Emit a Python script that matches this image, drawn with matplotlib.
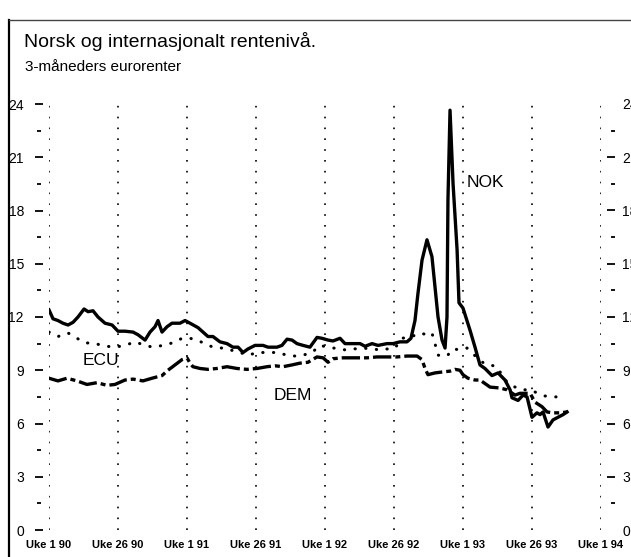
import numpy as np
import matplotlib
matplotlib.use("Agg")
import matplotlib.pyplot as plt
from matplotlib.lines import Line2D
from matplotlib.ticker import FixedLocator, NullLocator

plt.rcParams['font.family'] = ['Liberation Sans', 'DejaVu Sans']

# time in years after uke 1 1990
nok_t = [0.000, 0.029, 0.065, 0.101, 0.138, 0.174, 0.210, 0.254, 0.283, 0.319,
         0.355, 0.406, 0.457, 0.500, 0.551, 0.609, 0.645, 0.696, 0.732, 0.768,
         0.790, 0.819, 0.855, 0.891, 0.949, 0.986, 1.022, 1.080, 1.116, 1.152,
         1.188, 1.239, 1.290, 1.333, 1.370, 1.406, 1.442, 1.493, 1.551, 1.587,
         1.652, 1.688, 1.725, 1.761, 1.797, 1.841, 1.891, 1.942, 1.978, 2.022,
         2.058, 2.109, 2.145, 2.203, 2.254, 2.290, 2.341, 2.384, 2.449, 2.493,
         2.543, 2.594, 2.623, 2.652, 2.674, 2.703, 2.739, 2.775, 2.797, 2.819,
         2.848, 2.870, 2.884, 2.891, 2.906, 2.928, 2.957, 2.971, 3.000, 3.051,
         3.087, 3.123, 3.159, 3.210, 3.254, 3.304, 3.341, 3.355, 3.399, 3.435,
         3.464, 3.500, 3.536, 3.558, 3.580, 3.616, 3.652, 3.688, 3.725, 3.754]
nok = [12.4, 11.9, 11.8, 11.65, 11.55, 11.7, 12.0, 12.45, 12.3, 12.35,
       12.0, 11.65, 11.55, 11.2, 11.2, 11.15, 11.0, 10.7, 11.15, 11.45,
       11.8, 11.15, 11.45, 11.65, 11.65, 11.8, 11.65, 11.4, 11.15, 10.9,
       10.9, 10.6, 10.5, 10.3, 10.3, 10.0, 10.2, 10.4, 10.4, 10.3,
       10.3, 10.4, 10.75, 10.7, 10.5, 10.4, 10.3, 10.85, 10.8, 10.7,
       10.65, 10.8, 10.5, 10.5, 10.5, 10.35, 10.5, 10.4, 10.5, 10.5,
       10.6, 10.6, 10.8, 11.8, 13.35, 15.2, 16.35, 15.4, 13.7, 12.0,
       10.7, 10.25, 12.0, 18.6, 23.65, 19.5, 15.8, 12.8, 12.5, 11.25,
       10.3, 9.3, 9.1, 8.7, 8.85, 8.45, 7.9, 7.45, 7.3, 7.6,
       7.5, 6.35, 6.6, 6.5, 6.65, 5.8, 6.2, 6.35, 6.5, 6.65]

ecu_t = [0.000, 0.065, 0.138, 0.203, 0.261, 0.333, 0.420, 0.478, 0.551, 0.623,
         0.696, 0.754, 0.826, 0.899, 0.964, 1.022, 1.072, 1.130, 1.188, 1.254,
         1.312, 1.384, 1.442, 1.514, 1.587, 1.652, 1.725, 1.783, 1.841, 1.906,
         1.964, 2.022, 2.145, 2.275, 2.399, 2.507, 2.558, 2.630, 2.688, 2.739,
         2.775, 2.797, 2.819, 2.884, 2.928, 2.978, 3.029, 3.065, 3.101, 3.159,
         3.196, 3.246, 3.304, 3.362, 3.428, 3.486, 3.543, 3.594, 3.652, 3.717]
ecu = [11.15, 10.9, 11.1, 10.8, 10.55, 10.5, 10.35, 10.3, 10.4, 10.6,
       10.4, 10.3, 10.4, 10.55, 10.8, 10.8, 10.7, 10.5, 10.3, 10.25,
       10.15, 10.0, 9.85, 10.0, 10.0, 10.0, 9.85, 9.8, 9.85, 10.0,
       10.4, 10.3, 10.15, 10.25, 10.15, 10.25, 10.8, 10.9, 11.1, 11.0,
       11.1, 10.5, 9.85, 9.8, 10.2, 10.15, 10.25, 10.0, 9.7, 9.35,
       9.3, 9.2, 8.45, 8.1, 7.9, 7.9, 7.7, 7.55, 7.5, 7.5]

dem_t = [0.000, 0.065, 0.130, 0.203, 0.275, 0.348, 0.420, 0.478, 0.551, 0.609,
         0.681, 0.746, 0.819, 0.862, 0.913, 0.964, 1.000, 1.022, 1.043, 1.094,
         1.152, 1.217, 1.290, 1.362, 1.435, 1.507, 1.580, 1.638, 1.696, 1.761,
         1.819, 1.877, 1.942, 1.986, 2.022, 2.058, 2.130, 2.203, 2.304, 2.377,
         2.449, 2.522, 2.594, 2.667, 2.703, 2.725, 2.746, 2.797, 2.848, 2.906,
         2.942, 2.978, 3.000, 3.036, 3.087, 3.123, 3.196, 3.268, 3.319, 3.377,
         3.413, 3.486, 3.522, 3.572, 3.609, 3.652, 3.703, 3.754]
dem = [8.55, 8.4, 8.55, 8.4, 8.2, 8.3, 8.15, 8.2, 8.45, 8.5,
       8.4, 8.55, 8.7, 9.0, 9.3, 9.6, 9.7, 9.4, 9.2, 9.1,
       9.05, 9.1, 9.2, 9.1, 9.05, 9.1, 9.2, 9.25, 9.2, 9.3,
       9.4, 9.45, 9.75, 9.7, 9.45, 9.65, 9.7, 9.7, 9.7, 9.75,
       9.75, 9.75, 9.8, 9.8, 9.6, 9.1, 8.75, 8.85, 8.9, 8.95,
       9.05, 9.0, 8.75, 8.55, 8.45, 8.45, 8.05, 8.0, 7.9, 7.6,
       7.7, 7.7, 7.2, 6.95, 6.65, 6.6, 6.6, 6.65]

x_ticks = [0, 0.5, 1, 1.5, 2, 2.5, 3, 3.5, 4]
x_labels = ['Uke 1 90', 'Uke 26 90', 'Uke 1 91', 'Uke 26 91', 'Uke 1 92',
            'Uke 26 92', 'Uke 1 93', 'Uke 26 93', 'Uke 1 94']
y_major = [0, 3, 6, 9, 12, 15, 18, 21, 24]
y_minor = [1.5, 4.5, 7.5, 10.5, 13.5, 16.5, 19.5, 22.5]

W, H = 631, 557
fig = plt.figure(figsize=(W / 100, H / 100), dpi=100)
ax = fig.add_axes([49 / W, 27 / H, 552 / W, 426 / H])

ax.plot(ecu_t, ecu, color='black', lw=2.2, linestyle=(0, (0.1, 3.4)),
        dash_capstyle='round')
ax.plot(dem_t, dem, color='black', lw=2.4, linestyle=(0, (5.5, 1.2, 1.5, 1.2)))
ax.plot(nok_t, nok, color='black', lw=2.4, solid_joinstyle='round')

ax.set_xlim(0, 4)
ax.set_ylim(0, 24)
ax.set_xticks(x_ticks)
ax.set_xticklabels(x_labels, fontweight='bold', fontsize=8)
ax.tick_params(axis='x', length=0, pad=7)
ax.grid(axis='x', color='black', lw=1.2, linestyle=(0, (1, 5.5)))

labels = [str(v) for v in y_major]


def hide_end_ticks(axis):
    ticks = axis.get_major_ticks()
    for i in (0, len(ticks) - 1):
        ticks[i].tick1line.set_visible(False)
        ticks[i].tick2line.set_visible(False)


ax.set_yticks(y_major)
ax.set_yticklabels(labels)
ax.tick_params(axis='y', which='major', direction='out', length=6, width=1.3,
               labelsize=10, pad=8)
hide_end_ticks(ax.yaxis)
ax.spines['left'].set_position(('outward', 4))
for s in ax.spines.values():
    s.set_visible(False)

# right hand scale
rax = ax.secondary_yaxis(1 + 6 / 552)
rax.set_yticks(y_major)
rax.set_yticklabels(labels)
rax.tick_params(which='major', direction='out', length=6, width=1.3,
                labelsize=10, pad=5)
hide_end_ticks(rax.yaxis)
for s in rax.spines.values():
    s.set_visible(False)

# short minor dashes sit at the outer end of the major dashes
for loc in (-8 / 552, 1 + 10 / 552):
    sec = ax.secondary_yaxis(loc)
    sec.yaxis.set_major_locator(NullLocator())
    sec.yaxis.set_minor_locator(FixedLocator(y_minor))
    sec.tick_params(which='minor', direction='out', length=3, width=1.3)
    for s in sec.spines.values():
        s.set_visible(False)

ax.text(3.16, 19.55, 'NOK', fontsize=12.5, ha='center', va='center')
ax.text(0.377, 9.55, 'ECU', fontsize=12.5, ha='center', va='center')
ax.text(1.768, 7.6, 'DEM', fontsize=12.5, ha='center', va='center')

fig.text(24 / W, 1 - 32 / H, 'Norsk og internasjonalt rentenivå.', fontsize=14,
         va='top', ha='left')
fig.text(25 / W, 1 - 60 / H, '3-måneders eurorenter', fontsize=11,
         va='top', ha='left')

# frame of the original page box
fig.add_artist(Line2D([9 / W, 9 / W], [0, 1 - 20 / H], color='black', lw=1.6,
                      transform=fig.transFigure))
fig.add_artist(Line2D([9 / W, 1], [1 - 20 / H, 1 - 20 / H], color='#444444',
                      lw=1.0, transform=fig.transFigure))

fig.savefig('out.png', dpi=100)
